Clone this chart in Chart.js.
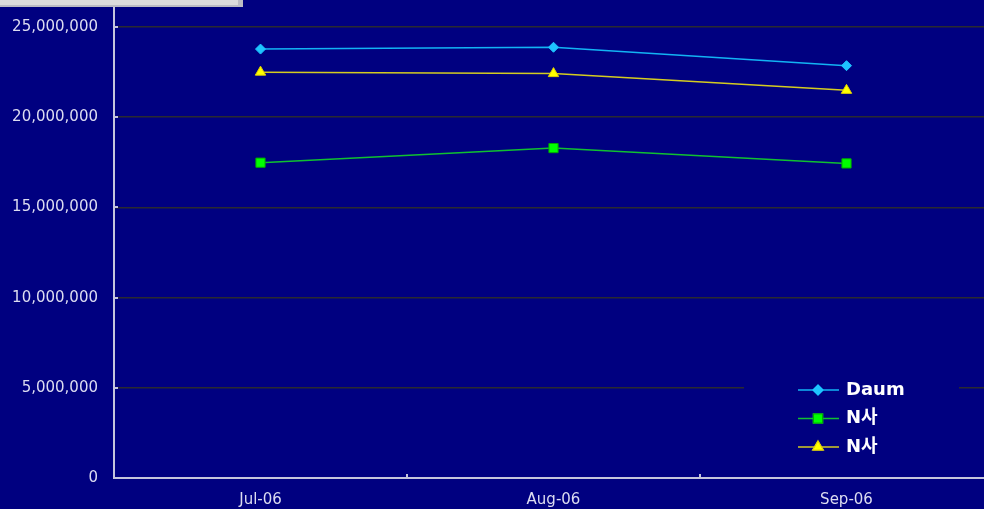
<!DOCTYPE html>
<html>
<head>
<meta charset="utf-8">
<script src="https://cdn.jsdelivr.net/npm/chart.js@4/dist/chart.umd.min.js"></script>
<style>
  html, body { margin: 0; padding: 0; background: #000080; }
  #wrap { position: relative; width: 984px; height: 509px; overflow: hidden; background: #000080; }
  #chart { position: absolute; left: 0; top: 0; }
  #frame { position: absolute; left: 0; top: 0; width: 238px; height: 5px;
           background: #dcdcdc; border-right: 5px solid #bcbcc4; border-bottom: 2px solid #bcbcc4; }
</style>
</head>
<body>
<div id="wrap">
  <canvas id="chart" width="1000" height="509"></canvas>
  <div id="frame"></div>
</div>
<script>
// Monthly visitors per portal
const months = ['Jul-06', 'Aug-06', 'Sep-06'];
const seriesNames = ['Daum', 'N사', 'N사'];
const daumValues = [23780000, 23880000, 22860000];
const greenValues = [17480000, 18290000, 17440000];
const yellowValues = [22500000, 22420000, 21490000];
const yTickValues = [0, 5000000, 10000000, 15000000, 20000000, 25000000];

const TEXT = '#dcdcf0';
const AXIS = '#c4c4dc';

// inside tick marks on both axes
const innerTicks = {
  id: 'innerTicks',
  afterDraw(chart) {
    const { ctx, chartArea } = chart;
    const x = chart.scales.x, y = chart.scales.y;
    ctx.save();
    ctx.strokeStyle = AXIS;
    ctx.lineWidth = 2;
    ctx.beginPath();
    for (let i = 1; i < months.length; i++) {
      const px = Math.round((x.getPixelForValue(i - 1) + x.getPixelForValue(i)) / 2);
      ctx.moveTo(px, chartArea.bottom - 4);
      ctx.lineTo(px, chartArea.bottom);
    }
    yTickValues.forEach(v => {
      if (v === 0) return;
      const py = Math.round(y.getPixelForValue(v));
      ctx.moveTo(chartArea.left, py);
      ctx.lineTo(chartArea.left + 4, py);
    });
    ctx.stroke();
    ctx.restore();
  }
};

// legend box drawn inside the plot, lower right
const boxLegend = {
  id: 'boxLegend',
  afterDatasetsDraw(chart) {
    const { ctx, chartArea } = chart;
    const left = chartArea.right - 249;
    const top = chartArea.bottom - 103;
    ctx.save();
    ctx.fillStyle = '#000080';
    ctx.fillRect(left, top, 215, 88);
    ctx.font = 'bold 18px "DejaVu Sans", "Noto Sans CJK KR", sans-serif';
    ctx.textBaseline = 'middle';
    ctx.textAlign = 'left';
    chart.data.datasets.forEach((ds, i) => {
      const ly = top + 15 + i * 28.5;
      ctx.strokeStyle = ds.borderColor;
      ctx.lineWidth = 1.5;
      ctx.beginPath();
      ctx.moveTo(left + 54, ly);
      ctx.lineTo(left + 95, ly);
      ctx.stroke();
      Chart.helpers.drawPoint(ctx, {
        pointStyle: ds.pointStyle,
        radius: ds.pointRadius,
        rotation: 0,
        borderWidth: ds.pointBorderWidth
      }, left + 74, ly);
      ctx.fillStyle = ds.pointBackgroundColor;
      ctx.strokeStyle = ds.pointBorderColor;
      ctx.lineWidth = ds.pointBorderWidth;
      ctx.fill();
      if (ds.pointBorderWidth) ctx.stroke();
      ctx.fillStyle = '#ffffff';
      ctx.fillText(ds.label, left + 102, ly);
    });
    ctx.restore();
  }
};

function series(label, data, line, fill, edge, style, radius) {
  return {
    label, data,
    borderColor: line,
    borderWidth: 1.5,
    pointStyle: style,
    pointRadius: radius,
    pointHoverRadius: radius,
    pointBackgroundColor: fill,
    pointBorderColor: edge,
    pointBorderWidth: 1,
    tension: 0,
    fill: false
  };
}

new Chart(document.getElementById('chart'), {
  type: 'line',
  data: {
    labels: months,
    datasets: [
      series(seriesNames[0], daumValues, '#12b4f4', '#1ec4ff', '#1ec4ff', 'rectRot', 5),
      series(seriesNames[1], greenValues, '#10c030', '#00ff00', '#00a800', 'rect', 6.5),
      series(seriesNames[2], yellowValues, '#d4cc20', '#ffff00', '#e0d000', 'triangle', 6)
    ]
  },
  options: {
    responsive: false,
    animation: false,
    layout: { autoPadding: false, padding: { left: 0, right: 7, top: 0, bottom: 0 } },
    plugins: { legend: { display: false }, tooltip: { enabled: false } },
    scales: {
      x: {
        offset: true,
        grid: { display: false, drawTicks: false },
        border: { display: true, color: AXIS, width: 2 },
        ticks: { color: TEXT, font: { family: '"DejaVu Sans"', size: 15 }, padding: 13, maxRotation: 0 },
        afterFit(s) { s.height = 31; s.paddingLeft = 0; s.paddingRight = 0; }
      },
      y: {
        min: 0,
        max: 26500000,
        grid: { color: '#2a2a30', lineWidth: 1.5, drawTicks: false },
        border: { display: true, color: AXIS, width: 2 },
        ticks: {
          color: TEXT,
          font: { family: '"DejaVu Sans"', size: 15 },
          padding: 16,
          callback: v => v.toLocaleString('en-US')
        },
        afterBuildTicks(s) { s.ticks = yTickValues.map(v => ({ value: v })); },
        afterFit(s) { s.width = 114; s.paddingTop = 0; s.paddingBottom = 0; }
      }
    }
  },
  plugins: [innerTicks, boxLegend]
});
</script>
</body>
</html>
